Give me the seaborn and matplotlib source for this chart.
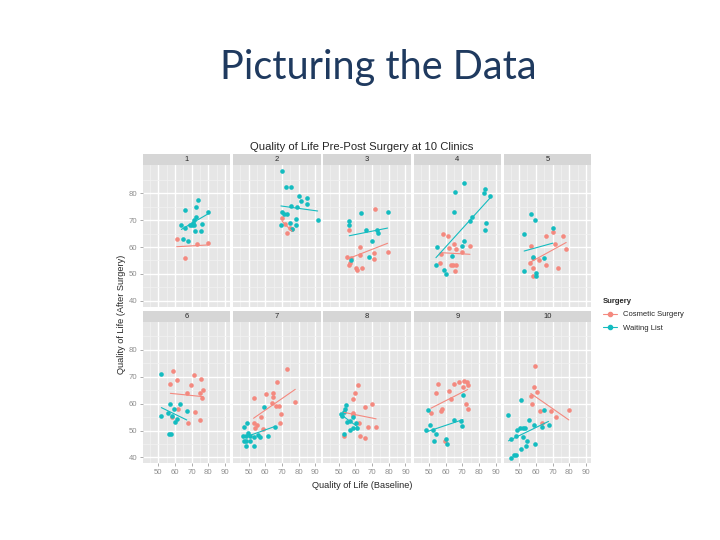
import pandas as pd
import matplotlib
matplotlib.use("Agg")
import matplotlib.pyplot as plt
from matplotlib.lines import Line2D
import seaborn as sns

sns.set_style("white")
plt.rcParams['font.family'] = ['Liberation Sans', 'DejaVu Sans']

clinics = [1, 2, 3, 4, 5, 6, 7, 8, 9, 10]
groups = ['Cosmetic Surgery', 'Waiting List']
colours = ['#F4897F', '#14BCC0']

# baseline / after-surgery quality of life
cosmetic_base = {
    1: [61, 65.8, 73.2, 79.8],
    2: [70.2, 71.8, 73, 75, 76],
    3: [71.6, 55.9, 62.7, 55.1, 57.5, 62.5, 56.7, 55.9, 60.1, 60.7, 63.7, 71, 71, 79.3],
    4: [58.7, 61.7, 65.1, 57.1, 62.1, 66.1, 69.6, 74.6, 56.7, 63.1, 64.5, 66.1, 65.9],
    5: [57.3, 66.3, 70.4, 76.2, 71.2, 78.2, 58.3, 62.1, 56.7, 65.9, 58.3, 73.2, 58.3],
    6: [59, 57.2, 61, 69.8, 71.6, 75.8, 76.8, 67, 74.8, 76.2, 62, 71.8, 74.8, 67.8, 58],
    7: [73.2, 67.2, 53.2, 60.2, 64.4, 64.8, 64, 66.4, 68, 78, 57.2, 53, 55, 69.4, 69, 58.4, 53.8],
    8: [61.7, 59.5, 58.5, 70.1, 65.7, 58.5, 58.5, 62.1, 67.6, 72.4, 62.7, 65.9, 53.2],
    9: [55.2, 54.2, 62.2, 65.2, 68.2, 71.2, 72.8, 73.2, 70.2, 63.2, 58, 57, 72.2, 73.2, 59.4, 51.2],
    10: [59.8, 59, 61, 57, 57.8, 62.6, 68.8, 71.8, 79.8, 63.8],
}
cosmetic_after = {
    1: [63.1, 56, 61.1, 61.5],
    2: [70.8, 68.4, 65.2, 67.2, 66.6],
    3: [74, 66.2, 60.1, 56.3, 55.9, 57, 54.2, 53.2, 52.3, 51.3, 52.3, 57.9, 55.7, 58.1],
    4: [64.8, 64, 61, 57.4, 59.5, 59.1, 58.1, 60.4, 54.2, 53.3, 53.3, 53.3, 51.2],
    5: [60.4, 64, 65.7, 64, 61, 59.1, 55.8, 55.2, 53.9, 53.2, 52.1, 52.3, 49.2],
    6: [72, 67.5, 68.7, 67.1, 70.6, 69.1, 65.1, 64.1, 63.9, 62.1, 57.9, 57.1, 54, 53, 55.2],
    7: [73, 68.2, 62.1, 63.7, 63.9, 62.6, 60.1, 59.1, 59.1, 60.7, 55, 53, 51.9, 56, 52.9, 50.7, 50.9],
    8: [67, 63.9, 61.7, 60, 58.9, 56.5, 55.8, 53, 51.2, 51.2, 48.1, 47.1, 48],
    9: [67.3, 63.8, 64.9, 67.2, 68, 68.5, 68, 66.8, 66.1, 61.9, 58.1, 57.3, 60, 58, 46, 56.7],
    10: [74.1, 66.2, 64.2, 62.8, 60, 57.2, 57.3, 55, 57.8, 52.7],
}
waiting_base = {
    1: [65.8, 73.6, 72.8, 79.8, 63.8, 65.8, 69, 71.4, 72.8, 71, 71.4, 76.2, 71.8, 75.8, 64.8, 67.8, 70],
    2: [70.2, 72.2, 75.4, 80.2, 85, 81.4, 85, 75.4, 79, 70.2, 71, 73, 78.2, 91.4, 69.4, 75, 78.2, 75.8],
    3: [56.3, 56.3, 63.5, 79.3, 66.5, 73.2, 73.4, 70.2, 68.4, 57.5],
    4: [71, 65.9, 83.7, 82.9, 86.7, 64.9, 75.8, 74.8, 84.5, 83.9, 71, 69.6, 54.8, 63.7, 54.2, 58.9, 60.1],
    5: [57.3, 59.3, 53, 70.2, 58.1, 65.1, 53.2, 60.1, 60.3],
    6: [51.8, 51.8, 57, 62.8, 59.6, 55.8, 58, 61, 60, 67, 56.6, 57.8],
    7: [49, 59.4, 47.2, 46.8, 48.6, 50.6, 53, 55.8, 56.6, 61.4, 47, 48.6, 50.6, 48.6, 53.4, 65.6, 49.6],
    8: [54.4, 53.8, 53.2, 52.2, 58.3, 54.8, 56.7, 60.1, 58.5, 61.1, 56.5, 53.2, 51.2],
    9: [49.4, 70.4, 65.2, 69.4, 69.6, 50.4, 48.2, 52.2, 54.2, 60.2, 60.8, 53.2],
    10: [51, 43.6, 50.6, 52.4, 53.8, 49, 56, 59.2, 63.6, 64.8, 67.6, 48, 45, 52.6, 54.8,
         59.6, 54, 51, 47, 48.4, 45],
}
waiting_after = {
    1: [73.7, 77.3, 75, 73.2, 68.1, 67.1, 68.1, 69.9, 71.2, 68.8, 68, 68.7, 66, 66, 63, 62.2, 68],
    2: [88.2, 82.4, 82.4, 78.9, 78.1, 77.1, 76.1, 75.2, 74.9, 73.2, 72.2, 72.2, 70.4, 70.1, 68.1, 68.9, 68.1, 66.7],
    3: [69.6, 68.3, 72.7, 73, 66.2, 66.3, 65.2, 62.1, 56.1, 55],
    4: [83.7, 80.6, 81.5, 80.1, 79.1, 72.9, 71.1, 69.7, 69.1, 66.2, 62.1, 60.2, 59.9, 56.5, 53.4, 51.4, 50.1],
    5: [72.2, 70.1, 64.8, 67.2, 56.1, 55.8, 51.2, 50.2, 49.1],
    6: [71.1, 55.5, 60, 60, 58, 56.4, 55.4, 54.4, 53.2, 57.4, 48.9, 48.9],
    7: [53, 58.6, 51.4, 48, 48, 48, 47.7, 48.4, 47.7, 48, 46.2, 46, 46, 44.2, 44.2, 51.2, 49.2],
    8: [59.5, 58.1, 57, 55.3, 54.9, 53.3, 53.5, 52.9, 51, 51, 50.2, 48.9, 56],
    9: [57.6, 63.2, 54.1, 53.6, 51.7, 52, 50.1, 50.4, 48.9, 47, 45.1, 46],
    10: [61.3, 55.7, 51.1, 51.1, 51.1, 50.4, 54.1, 52, 51.4, 57.8, 52.2, 47.9, 47, 47.6, 46,
         45, 44.1, 43, 41.1, 40.9, 39.8],
}

rows = []
for c in clinics:
    for g, base, after in [(groups[0], cosmetic_base, cosmetic_after),
                           (groups[1], waiting_base, waiting_after)]:
        for b, a in zip(base[c], after[c]):
            rows.append({'Clinic': c, 'Surgery': g, 'Baseline': b, 'After': a})
df = pd.DataFrame(rows)

fig = plt.figure(figsize=(7.2, 5.4), dpi=100)
W, H = 720.0, 540.0

fig.text(378 / W, 1 - 67 / H, 'Picturing the Data', ha='center', va='center',
         fontsize=28.5, color='#1F3A5F', family=['Lato', 'DejaVu Sans'])
fig.text(362 / W, 1 - 147 / H, 'Quality of Life Pre-Post Surgery at 10 Clinics',
         ha='center', va='center', fontsize=8.1)
fig.text(362 / W, 1 - 485 / H, 'Quality of Life (Baseline)', ha='center', va='center', fontsize=6.6)
fig.text(122 / W, 1 - 314 / H, 'Quality of Life (After Surgery)', ha='center', va='center',
         fontsize=6.6, rotation=90)

pw, ph = 87.4, 141.7
for i, c in enumerate(clinics):
    r, col = divmod(i, 5)
    left = 143 + col * 90.2
    top = 165 + r * 156.7
    ax = fig.add_axes([left / W, 1 - (top + ph) / H, pw / W, ph / H])
    ax.set_facecolor('#E6E6E6')
    sub = df[df['Clinic'] == c]
    for g, colr in zip(groups, colours):
        d = sub[sub['Surgery'] == g]
        sns.regplot(data=d, x='Baseline', y='After', ax=ax, ci=None, color=colr,
                    scatter_kws=dict(s=11, linewidths=0, alpha=1),
                    line_kws=dict(lw=0.8))
    ax.set_xlim(40.8, 93.2)
    ax.set_ylim(37.8, 90.5)
    ax.set_xticks([50, 60, 70, 80, 90])
    ax.set_yticks([40, 50, 60, 70, 80])
    ax.set_xticks([45, 55, 65, 75, 85], minor=True)
    ax.set_yticks([45, 55, 65, 75, 85], minor=True)
    ax.grid(which='major', color='white', lw=1.0)
    ax.grid(which='minor', color='#F2F2F2', lw=0.5)
    ax.set_axisbelow(True)
    for s in ax.spines.values():
        s.set_visible(False)
    ax.set_xlabel('')
    ax.set_ylabel('')
    ax.tick_params(which='major', length=2.5, width=0.5, color='#8C8C8C',
                   labelcolor='#8C8C8C', labelsize=5.6, pad=1.5, bottom=True, left=True)
    ax.tick_params(which='minor', length=0)
    if r == 0:
        ax.tick_params(axis='x', bottom=False, labelbottom=False)
    if col > 0:
        ax.tick_params(axis='y', left=False, labelleft=False)

    sax = fig.add_axes([left / W, 1 - top / H, pw / W, 11 / H])
    sax.set_facecolor('#D6D6D6')
    sax.set_xticks([])
    sax.set_yticks([])
    for s in sax.spines.values():
        s.set_visible(False)
    sax.text(0.5, 0.5, str(c), ha='center', va='center', fontsize=5.5, transform=sax.transAxes)

handles = [Line2D([], [], color=colr, marker='o', markersize=3, lw=0.8) for colr in colours]
leg = fig.legend(handles, groups, title='Surgery', loc='upper left',
                 bbox_to_anchor=(596 / W, 1 - 291 / H), frameon=False, fontsize=5.5,
                 title_fontsize=5.5, alignment='left', handlelength=1.8, labelspacing=0.8)
leg.get_title().set_fontweight('bold')

fig.savefig('out.png', dpi=100, facecolor='white')
